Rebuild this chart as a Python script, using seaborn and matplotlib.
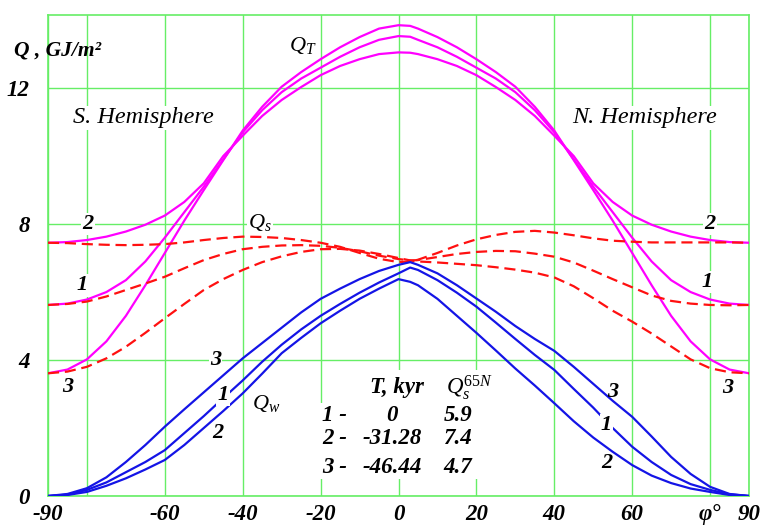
import matplotlib
matplotlib.use("Agg")
import matplotlib.pyplot as plt
from matplotlib.patches import Rectangle
import seaborn as sns

# ---------------- data ----------------
LAT = [-90, -85, -80, -75, -70, -65, -60, -55, -50, -45, -40, -35, -30, -25, -20,
       -15, -10, -5, 0, 3, 5, 10, 15, 20, 25, 30, 35, 40, 45, 50, 55, 60, 65, 70,
       75, 80, 85, 90]

# annual insolation Q_T (magenta)
QT1 = [5.62, 5.66, 5.78, 6.00, 6.35, 6.90, 7.60, 8.35, 9.10, 9.90, 10.70, 11.35,
       11.88, 12.28, 12.60, 12.92, 13.20, 13.42, 13.53, 13.51, 13.42, 13.20, 12.92,
       12.60, 12.28, 11.88, 11.35, 10.70, 9.90, 9.10, 8.35, 7.60, 6.90, 6.35, 6.00,
       5.78, 5.66, 5.62]
QT2 = [7.45, 7.47, 7.53, 7.63, 7.78, 7.98, 8.25, 8.65, 9.20, 10.00, 10.60, 11.18,
       11.65, 12.03, 12.38, 12.65, 12.85, 13.00, 13.05, 13.04, 13.00, 12.85, 12.65,
       12.38, 12.03, 11.65, 11.18, 10.60, 10.00, 9.20, 8.65, 8.25, 7.98, 7.78, 7.63,
       7.53, 7.47, 7.45]
QT3 = [3.61, 3.72, 4.02, 4.55, 5.30, 6.20, 7.15, 8.10, 9.00, 9.88, 10.75, 11.45,
       12.04, 12.47, 12.85, 13.20, 13.50, 13.75, 13.85, 13.83, 13.75, 13.50, 13.20,
       12.85, 12.47, 12.04, 11.45, 10.75, 9.88, 9.00, 8.10, 7.15, 6.20, 5.30, 4.55,
       4.02, 3.72, 3.61]

# summer half-year insolation Q_s (red dashed)
QS1 = [5.62, 5.65, 5.72, 5.87, 6.06, 6.25, 6.45, 6.70, 6.94, 7.12, 7.26, 7.33,
       7.37, 7.38, 7.36, 7.30, 7.20, 7.07, 6.97, 6.93, 6.94, 7.03, 7.12, 7.18,
       7.21, 7.20, 7.13, 7.04, 6.87, 6.63, 6.38, 6.14, 5.90, 5.74, 5.66, 5.62,
       5.61, 5.62]
QS2 = [7.45, 7.44, 7.41, 7.39, 7.38, 7.39, 7.41, 7.46, 7.53, 7.59, 7.63, 7.62,
       7.59, 7.53, 7.45, 7.33, 7.15, 6.98, 6.88, 6.90, 6.95, 7.15, 7.37, 7.55,
       7.68, 7.77, 7.80, 7.75, 7.67, 7.58, 7.51, 7.48, 7.46, 7.46, 7.46, 7.46,
       7.46, 7.45]
QS3 = [3.61, 3.66, 3.80, 4.05, 4.39, 4.80, 5.23, 5.65, 6.06, 6.38, 6.65, 6.88,
       7.05, 7.18, 7.26, 7.27, 7.22, 7.12, 7.00, 6.93, 6.90, 6.87, 6.83, 6.79,
       6.73, 6.66, 6.57, 6.43, 6.17, 5.82, 5.45, 5.13, 4.78, 4.40, 4.02, 3.76,
       3.64, 3.61]

# winter half-year insolation Q_w (blue)
QW1 = [0.00, 0.04, 0.18, 0.40, 0.70, 1.00, 1.35, 1.85, 2.35, 2.88, 3.40, 3.95,
       4.45, 4.90, 5.30, 5.65, 5.98, 6.28, 6.55, 6.72, 6.65, 6.35, 5.98, 5.57,
       5.10, 4.62, 4.15, 3.71, 3.15, 2.60, 2.00, 1.45, 1.00, 0.62, 0.35, 0.18,
       0.05, 0.00]
QW2 = [0.00, 0.03, 0.12, 0.30, 0.52, 0.78, 1.06, 1.50, 2.00, 2.50, 3.02, 3.60,
       4.20, 4.65, 5.08, 5.45, 5.80, 6.10, 6.38, 6.30, 6.20, 5.80, 5.30, 4.80,
       4.28, 3.75, 3.25, 2.73, 2.20, 1.72, 1.30, 0.91, 0.60, 0.38, 0.22, 0.12,
       0.03, 0.00]
QW3 = [0.00, 0.06, 0.23, 0.55, 1.00, 1.50, 2.04, 2.55, 3.05, 3.55, 4.05, 4.50,
       4.95, 5.40, 5.80, 6.10, 6.38, 6.62, 6.80, 6.88, 6.80, 6.55, 6.20, 5.81,
       5.42, 5.00, 4.62, 4.27, 3.80, 3.30, 2.80, 2.33, 1.75, 1.15, 0.65, 0.27,
       0.06, 0.00]

XTICKS = [-90, -60, -40, -20, 0, 20, 40, 60, 80, 90]
XTICKLABELS = ["-90", "-60", "-40", "-20", "0", "20", "40", "60", "\u03c6\u00b0", "90"]
XMINOR = [-80]
YTICKS = [0, 4, 8, 12]
YTICKLABELS = ["0", "4", "8", "12"]

ROW_ID = ["1 -", "2 -", "3 -"]
ROW_T = ["0", "-31.28", "-46.44"]
ROW_Q = ["5.9", "7.4", "4.7"]

# ---------------- style ----------------
sns.set_style("white")
plt.rcParams["font.family"] = ["Liberation Serif", "DejaVu Serif"]
plt.rcParams["mathtext.fontset"] = "custom"
plt.rcParams["mathtext.it"] = "Liberation Serif:italic"
plt.rcParams["mathtext.rm"] = "Liberation Serif"
plt.rcParams["axes.unicode_minus"] = False

MAGENTA = "#ff00ff"
RED = "#ff1010"
BLUE = "#1414e6"
GREEN = "#66ee66"
FS = 16.5

fig = plt.figure(figsize=(7.66, 5.25), dpi=100)
ax = fig.add_axes([48 / 766, 1 - 496 / 525, (749 - 48) / 766, (496 - 15) / 525])

LW = 1.6
for y in (QT1, QT2, QT3):
    sns.lineplot(x=LAT, y=y, ax=ax, color=MAGENTA, lw=LW, zorder=3)
for y in (QS1, QS2, QS3):
    sns.lineplot(x=LAT, y=y, ax=ax, color=RED, lw=LW, linestyle=(0, (5, 2.6)), zorder=3)
for y in (QW1, QW2, QW3):
    sns.lineplot(x=LAT, y=y, ax=ax, color=BLUE, lw=LW, zorder=3)

ax.set_xlim(-90, 90)
ax.set_ylim(0, 14.15)
ax.set_xticks(XTICKS)
ax.set_xticklabels(XTICKLABELS)
ax.set_xticks(XMINOR, minor=True)
ax.set_yticks(YTICKS)
ax.set_yticklabels(YTICKLABELS)
ax.grid(True, which="both", color=GREEN, lw=1.0, zorder=0)
ax.set_axisbelow(True)
ax.tick_params(which="both", length=0)
ax.tick_params(axis="x", pad=6)
ax.tick_params(axis="y", pad=13)
for lbl in ax.get_xticklabels() + ax.get_yticklabels():
    lbl.set_fontsize(FS)
    lbl.set_fontstyle("italic")
    lbl.set_fontweight("bold")
    lbl.set_color("black")
for sp in ax.spines.values():
    sp.set_color(GREEN)
    sp.set_linewidth(1.2)
ax.set_xlabel("")
ax.set_ylabel("")

BOX = dict(facecolor="white", edgecolor="none", pad=1.0)


def lab(x, y, s, size=16, weight="bold", ha="center", box=True, clip=True):
    ax.text(x, y, s, ha=ha, va="center", fontsize=size, style="italic",
            weight=weight, color="black", zorder=6,
            bbox=BOX if box else None, clip_on=clip)


# axis title
lab(-98.8, 13.1, "Q , GJ/m\u00b2", size=15.5, ha="left", box=False, clip=False)

# hemisphere labels
lab(-65.6, 11.12, "S. Hemisphere", size=17.5, weight="normal")
lab(63.1, 11.12, "N. Hemisphere", size=17.5, weight="normal")

# curve family labels
lab(-24.5, 13.25, r"$Q_T$", size=16, weight="normal")
lab(-35.5, 8.05, r"$Q_s$", size=16, weight="normal")
lab(-34.0, 2.72, r"$Q_w$", size=16, weight="normal")

# curve numbers (magenta / red)
lab(-79.7, 8.0, "2")
lab(-81.2, 6.2, "1")
lab(-85.0, 3.2, "3", box=False)
lab(80.0, 8.0, "2")
lab(79.1, 6.3, "1")
lab(84.6, 3.17, "3", box=False)

# curve numbers (blue)
lab(-47.0, 4.0, "3")
lab(-45.0, 2.97, "1")
lab(-46.5, 1.84, "2", box=False)
lab(55.1, 3.07, "3", box=False)
lab(53.4, 2.09, "1")
lab(53.4, 0.96, "2", box=False)

# white background of the small table (hides the grid there)
ax.add_patch(Rectangle((-21.5, 0.5), 47, 2.25, facecolor="white", edgecolor="none", zorder=2))
ax.add_patch(Rectangle((-8.0, 2.7), 33.5, 1.0, facecolor="white", edgecolor="none", zorder=2))

lab(-0.3, 3.18, "T, kyr", size=FS, box=False)
lab(18.4, 3.18, r"$Q_s^{65N}$", size=FS, weight="normal", box=False)
ROW_Y = [2.38, 1.70, 0.85]
ROW_T_X = [-0.3, 6.0, 6.0]
ROW_T_HA = ["right", "right", "right"]
for yy, a, b, c, bx, bh in zip(ROW_Y, ROW_ID, ROW_T, ROW_Q, ROW_T_X, ROW_T_HA):
    lab(-19.6, yy, a, size=FS, ha="left", box=False)
    lab(bx, yy, b, size=FS, ha=bh, box=False)
    lab(11.5, yy, c, size=FS, ha="left", box=False)

fig.savefig("out.png", dpi=100)
